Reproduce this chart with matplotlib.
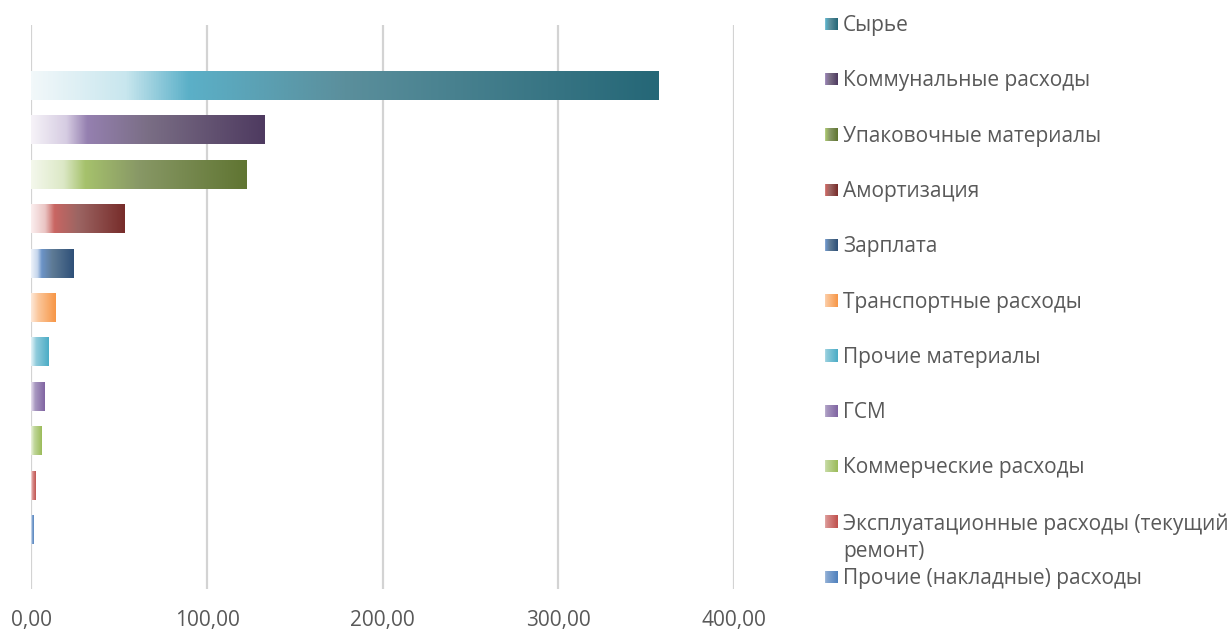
import numpy as np
import matplotlib
matplotlib.use("Agg")
import matplotlib.pyplot as plt
from matplotlib.colors import LinearSegmentedColormap

# ---- data ----
categories = [
    "Сырье",
    "Коммунальные расходы",
    "Упаковочные материалы",
    "Амортизация",
    "Зарплата",
    "Транспортные расходы",
    "Прочие материалы",
    "ГСМ",
    "Коммерческие расходы",
    "Эксплуатационные расходы (текущий\nремонт)",
    "Прочие (накладные) расходы",
]
values = [357.5, 133.0, 122.8, 53.3, 24.2, 14.0, 10.0, 7.7, 6.0, 2.6, 1.4]
xticks = [0, 100, 200, 300, 400]
xtick_labels = ["0,00", "100,00", "200,00", "300,00", "400,00"]

# ---- styles (gradient stops per series) ----
gradients = [
    [(0, "#F2F8FA"), (0.15, "#C8E6EE"), (0.25, "#5BB0C8"), (0.5, "#5B8F9C"), (1, "#256777")],
    [(0, "#F6F3F8"), (0.15, "#D6CCE2"), (0.24, "#9580B0"), (0.5, "#7A6E85"), (1, "#4E3A60")],
    [(0, "#F4F8EC"), (0.15, "#DCE8C6"), (0.25, "#A6C26C"), (0.5, "#889866"), (1, "#607532")],
    [(0, "#FBEFEF"), (0.15, "#EAC4C3"), (0.25, "#C96662"), (0.5, "#9C6563"), (1, "#772C2A")],
    [(0, "#EEF3FA"), (0.15, "#C6D6EC"), (0.25, "#6C94C8"), (0.5, "#5E7A95"), (1, "#2E5078")],
    [(0, "#FDE9D9"), (0.3, "#FBC69A"), (1, "#F79646")],
    [(0, "#E6F4F8"), (0.3, "#8FCBDB"), (1, "#4BACC6")],
    [(0, "#E8E2EF"), (0.3, "#A898C0"), (1, "#8064A2")],
    [(0, "#EBF2DE"), (0.3, "#C0D69A"), (1, "#9BBB59")],
    [(0, "#F5DCDB"), (0.3, "#D8908E"), (1, "#C0504D")],
    [(0, "#DCE6F2"), (0.3, "#88A8D2"), (1, "#4F81BD")],
]
text_color = "#595959"
grid_color = "#D3D3D3"
font = "Open Sans"
fs = 15

W, H = 1230, 629
fig = plt.figure(figsize=(W / 100, H / 100), dpi=100)
fig.patch.set_facecolor("white")

def fx(px):
    return px / W

def fy(py):
    return 1 - py / H

ax_left, ax_right, ax_top, ax_bottom = 31.5, 734, 25, 589
ax = fig.add_axes([fx(ax_left), fy(ax_bottom), fx(ax_right - ax_left), (ax_bottom - ax_top) / H])

n = len(values)
ypos = np.arange(n)
bar_h = 0.655
slot = 44.4
grad = np.linspace(0, 1, 512).reshape(1, -1)
grad_marker = np.linspace(0.2, 1, 64).reshape(1, -1)

cmaps = [LinearSegmentedColormap.from_list(f"g{i}", g) for i, g in enumerate(gradients)]

bars = ax.barh(ypos, values, height=bar_h, color="none", edgecolor="none", zorder=3)
for i, (b, v) in enumerate(zip(bars, values)):
    im = ax.imshow(grad, cmap=cmaps[i], vmin=0, vmax=1, aspect="auto", interpolation="bilinear",
                   extent=[0, v, ypos[i] + bar_h / 2, ypos[i] - bar_h / 2], zorder=3)
    im.set_clip_path(b)

ax.set_xlim(0, 400)
ax.set_ylim((n - 1) + (ax_bottom - 529.5) / slot, -(85.5 - ax_top) / slot)
ax.set_xticks(xticks)
ax.set_xticklabels(xtick_labels, fontsize=fs, color=text_color, fontfamily=font)
ax.set_yticks([])
ax.tick_params(axis="x", length=0, pad=15)
for s in ax.spines.values():
    s.set_visible(False)
ax.grid(axis="x", color=grid_color, linewidth=1.6, zorder=0)
ax.set_axisbelow(True)

# ---- legend (manual, Excel-like fixed slots) ----
leg_y0, leg_dy = 23.8, 55.3
cap_half = 7.3
line_pitch = 28.0
for i, lab in enumerate(categories):
    cy = leg_y0 + i * leg_dy
    mk = fig.add_axes([fx(824.5), fy(cy + 6.3), fx(13), 12.5 / H])
    mk.imshow(grad_marker, cmap=cmaps[i], vmin=0, vmax=1, aspect="auto", interpolation="bilinear")
    mk.set_axis_off()
    extra = lab.count("\n")
    # matplotlib aligns the last line's baseline for va='baseline'
    fig.text(fx(843), fy(cy + cap_half + extra * line_pitch), lab, fontsize=fs,
             color=text_color, fontfamily=font, va="baseline", ha="left",
             linespacing=1.35)

fig.savefig("out.png", dpi=100, facecolor="white")
